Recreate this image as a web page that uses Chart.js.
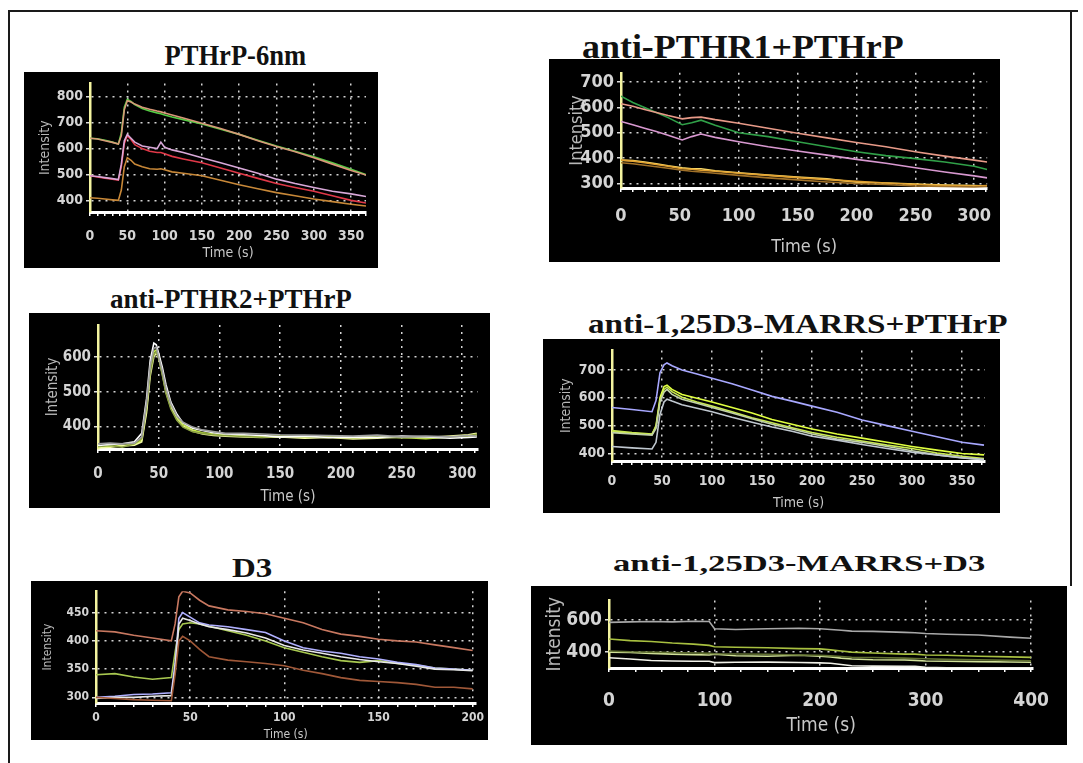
<!DOCTYPE html>
<html lang="en">
<head>
<meta charset="UTF-8">
<title>Calcium response panels</title>
<script src="https://cdn.jsdelivr.net/npm/chart.js@4.4.0/dist/chart.umd.min.js"></script>
<style>
  * { box-sizing: border-box; margin: 0; padding: 0; }
  body { width: 1083px; height: 763px; background: #fff; position: relative; overflow: hidden; font-family: 'Liberation Serif', 'Times New Roman', serif; }
  .frame { position: absolute; left: 8px; top: 10px; width: 1070px; height: 760px; border-left: 2px solid #1a1a1a; border-top: 2px solid #1a1a1a; }
  .frame-r { position: absolute; left: 1070px; top: 10px; width: 2px; height: 576px; background: #1a1a1a; }
  .panel { position: absolute; background: #000; z-index: 2; }
  .panel canvas { display: block; }
  .title { position: absolute; font-weight: bold; white-space: nowrap; color: #111; line-height: 1; z-index: 1; }
</style>
</head>
<body>
<div class="frame"></div>
<div class="frame-r"></div>
<script>
// ---- PTHrP-6nm ----
const p1Times = [0, 10, 20, 30, 38, 42, 46, 50, 55, 60, 70, 80, 90, 95, 100, 110, 125, 150, 175, 200, 225, 250, 275, 300, 325, 350, 370];
const p1Green = [640, 638, 632, 625, 618, 660, 760, 790, 782, 770, 755, 745, 738, 735, 730, 722, 712, 695, 675, 655, 632, 610, 590, 568, 545, 520, 500];
const p1Tan = [640, 637, 630, 624, 618, 650, 750, 785, 780, 772, 760, 752, 745, 742, 738, 730, 718, 698, 678, 655, 630, 608, 588, 565, 540, 515, 498];
const p1Lavender = [495, 492, 488, 484, 480, 540, 630, 655, 640, 625, 610, 605, 600, 625, 605, 595, 585, 565, 545, 525, 505, 482, 465, 450, 435, 425, 415];
const p1Red = [495, 490, 486, 482, 478, 530, 620, 650, 635, 615, 600, 590, 585, 585, 580, 570, 560, 545, 525, 505, 485, 465, 450, 435, 418, 400, 390];
const p1Orange = [410, 408, 405, 402, 400, 440, 530, 565, 555, 540, 530, 522, 520, 522, 518, 510, 505, 495, 478, 460, 445, 430, 418, 405, 395, 385, 378];
const p1XTicks = [0, 50, 100, 150, 200, 250, 300, 350];
const p1YTicks = [400, 500, 600, 700, 800];

// ---- anti-PTHR1+PTHrP ----
const p2Times = [0, 10, 20, 30, 40, 52, 60, 68, 80, 100, 125, 150, 175, 200, 225, 250, 275, 300, 311];
const p2Green = [645, 620, 600, 580, 560, 532, 540, 550, 530, 500, 485, 465, 445, 425, 410, 398, 385, 368, 355];
const p2Salmon = [615, 605, 592, 580, 568, 555, 560, 562, 552, 538, 518, 498, 480, 462, 445, 425, 408, 392, 385];
const p2Pink = [545, 532, 518, 505, 490, 472, 485, 495, 482, 465, 445, 428, 412, 395, 380, 362, 345, 330, 322];
const p2Orange = [392, 388, 382, 375, 368, 358, 356, 352, 348, 340, 332, 323, 315, 308, 302, 296, 292, 290, 292];
const p2Brown = [382, 378, 372, 366, 360, 352, 348, 345, 340, 332, 322, 314, 306, 300, 296, 290, 288, 286, 288];
const p2Yellow = [392, 390, 385, 378, 370, 362, 358, 358, 350, 342, 333, 325, 318, 305, 302, 298, 294, 292, 290];
const p2XTicks = [0, 50, 100, 150, 200, 250, 300];
const p2YTicks = [300, 400, 500, 600, 700];

// ---- anti-PTHR2+PTHrP ----
const p3Times = [0, 10, 20, 30, 36, 40, 43, 46, 48, 50, 53, 56, 60, 65, 70, 78, 86, 95, 105, 120, 135, 150, 170, 190, 210, 230, 250, 270, 290, 305, 312];
const p3Lime = [340, 342, 345, 348, 360, 450, 560, 615, 620, 605, 560, 505, 460, 425, 405, 390, 382, 378, 375, 372, 370, 372, 368, 370, 366, 372, 368, 365, 370, 372, 375];
const p3White = [345, 348, 350, 356, 380, 480, 590, 640, 635, 610, 570, 520, 470, 435, 410, 395, 388, 382, 378, 376, 374, 370, 372, 368, 370, 368, 372, 370, 366, 368, 370];
const p3Gray = [350, 352, 350, 352, 370, 470, 575, 625, 628, 600, 560, 510, 465, 430, 412, 398, 390, 385, 380, 380, 378, 376, 375, 374, 372, 375, 370, 372, 370, 374, 372];
const p3Pale = [338, 340, 344, 346, 355, 440, 545, 600, 612, 598, 552, 498, 455, 420, 400, 386, 378, 374, 372, 370, 368, 370, 366, 368, 364, 366, 370, 368, 372, 376, 380];
const p3Olive = [342, 345, 340, 350, 365, 460, 555, 608, 615, 595, 548, 495, 450, 418, 398, 385, 380, 376, 374, 371, 369, 372, 371, 369, 368, 370, 367, 369, 368, 373, 377];
const p3XTicks = [0, 50, 100, 150, 200, 250, 300];
const p3YTicks = [400, 500, 600];

// ---- anti-1,25D3-MARRS+PTHrP ----
const p4Times = [0, 20, 40, 44, 48, 52, 55, 60, 70, 85, 100, 120, 140, 160, 180, 200, 225, 250, 275, 300, 325, 350, 372];
const p4Lavender = [565, 558, 550, 590, 690, 718, 725, 715, 700, 685, 670, 650, 628, 605, 588, 570, 548, 520, 500, 480, 460, 440, 430];
const p4Yellow1 = [478, 472, 468, 500, 600, 640, 645, 630, 612, 598, 585, 565, 545, 522, 505, 488, 470, 455, 440, 425, 412, 400, 395];
const p4Yellow2 = [482, 475, 470, 495, 590, 630, 638, 622, 602, 585, 570, 550, 528, 510, 492, 475, 458, 445, 430, 418, 402, 390, 382];
const p4Sage = [475, 470, 466, 490, 585, 620, 630, 612, 595, 580, 565, 545, 525, 505, 488, 470, 452, 440, 425, 410, 395, 385, 378];
const p4Gray = [425, 420, 416, 440, 540, 585, 595, 588, 575, 562, 550, 530, 512, 495, 480, 462, 448, 432, 418, 405, 395, 384, 378];
const p4XTicks = [0, 50, 100, 150, 200, 250, 300, 350];
const p4YTicks = [400, 500, 600, 700];

// ---- D3 ----
const p5Times = [0, 10, 20, 30, 40, 42, 44, 46, 50, 55, 60, 70, 80, 90, 100, 110, 120, 130, 140, 150, 160, 170, 180, 190, 200];
const p5Brown = [418, 416, 410, 405, 400, 430, 478, 488, 485, 472, 462, 455, 452, 448, 440, 432, 420, 412, 408, 403, 400, 398, 393, 388, 383];
const p5Lavender = [300, 302, 305, 306, 308, 360, 440, 450, 442, 432, 428, 425, 420, 415, 400, 388, 382, 378, 372, 368, 362, 358, 352, 350, 348];
const p5Green = [340, 342, 336, 332, 335, 380, 420, 430, 432, 430, 426, 418, 410, 400, 388, 380, 372, 365, 362, 365, 360, 357, 352, 350, 348];
const p5Rust = [300, 298, 296, 295, 294, 340, 400, 408, 400, 385, 372, 366, 363, 360, 356, 348, 342, 335, 330, 328, 326, 323, 318, 318, 315];
const p5White = [298, 300, 300, 302, 303, 350, 430, 440, 436, 430, 425, 420, 414, 405, 392, 384, 378, 372, 367, 363, 360, 355, 350, 349, 347];
const p5XTicks = [0, 50, 100, 150, 200];
const p5YTicks = [300, 350, 400, 450];

// ---- anti-1,25D3-MARRS+D3 ----
const p6Times = [0, 20, 40, 60, 80, 95, 100, 120, 150, 180, 200, 210, 220, 230, 250, 280, 290, 300, 320, 350, 380, 400];
const p6Gray = [585, 588, 590, 588, 592, 590, 545, 540, 545, 548, 545, 540, 535, 530, 528, 522, 520, 515, 510, 505, 492, 485];
const p6Lime = [480, 470, 465, 455, 448, 440, 432, 428, 425, 420, 418, 412, 405, 398, 392, 385, 385, 380, 378, 372, 368, 365];
const p6Olive = [405, 400, 398, 395, 392, 390, 388, 386, 384, 380, 378, 374, 370, 366, 364, 360, 358, 356, 352, 350, 346, 344];
const p6Pale = [398, 395, 390, 385, 382, 380, 385, 375, 372, 378, 372, 368, 360, 355, 350, 348, 346, 342, 340, 338, 336, 334];
const p6White = [362, 355, 345, 342, 340, 340, 332, 334, 335, 333, 330, 328, 320, 312, 310, 308, 308, 302, 300, 300, 300, 300];
const p6XTicks = [0, 100, 200, 300, 400];
const p6YTicks = [400, 600];

const TICK_FONT = "'Liberation Sans Narrow', 'DejaVu Sans Condensed', 'Liberation Sans', sans-serif";
const GRID = 'rgba(235,235,235,0.9)';

// box = black panel, plot = axis corner positions (page px)
const panels = [
  {
    title: 'PTHrP-6nm', tcx: 235, tcy: 55, tsize: 29, twidth: 142,
    box: [24, 72, 378, 268], plot: [90, 80, 372, 212],
    xMin: 0, xMax: 370, yMin: 355, yMax: 852, xTicks: p1XTicks, yTicks: p1YTicks, minor: 10,
    font: 14, xPad: 12, xTitlePad: 6, yTitlePad: 13,
    times: p1Times,
    series: [[p1Tan, '#d89878'], [p1Green, '#55cc44'], [p1Orange, '#c88838'], [p1Lavender, '#d8a8d8'], [p1Red, '#e03848']],
  },
  {
    title: 'anti-PTHR1+PTHrP', tcx: 743, tcy: 47, tsize: 33, twidth: 322,
    box: [549, 59, 1000, 262], plot: [621, 61, 997, 188],
    xMin: 0, xMax: 311, yMin: 282, yMax: 737, xTicks: p2XTicks, yTicks: p2YTicks, minor: 10,
    font: 18, xPad: 14, xTitlePad: 4, yTitlePad: 18,
    times: p2Times,
    series: [[p2Brown, '#a07028'], [p2Orange, '#e0a030'], [p2Yellow, '#f8d868'], [p2Salmon, '#e89a88'], [p2Pink, '#d898d0'], [p2Green, '#30a048']],
  },
  {
    title: 'anti-PTHR2+PTHrP', tcx: 231, tcy: 299, tsize: 27, twidth: 242,
    box: [29, 313, 490, 508], plot: [98, 318, 478, 449],
    xMin: 0, xMax: 313, yMin: 335, yMax: 692, xTicks: p3XTicks, yTicks: p3YTicks, minor: 10,
    font: 15, xPad: 12, xTitlePad: 2, yTitlePad: 15,
    times: p3Times,
    series: [[p3Gray, '#a0a0a0'], [p3White, '#ffffff'], [p3Olive, '#8aa040'], [p3Pale, '#f0f8a0'], [p3Lime, '#c8f040']],
  },
  {
    title: 'anti-1,25D3-MARRS+PTHrP', tcx: 798, tcy: 324, tsize: 27, twidth: 420,
    box: [543, 339, 1000, 513], plot: [612, 342, 985, 461],
    xMin: 0, xMax: 373, yMin: 373, yMax: 770, xTicks: p4XTicks, yTicks: p4YTicks, minor: 10,
    font: 14, xPad: 8, xTitlePad: 1, yTitlePad: 15,
    times: p4Times,
    series: [[p4Lavender, '#a8a8ff'], [p4Gray, '#c0c8d0'], [p4Sage, '#c0d0a8'], [p4Yellow2, '#c8e850'], [p4Yellow1, '#e0ff40']],
  },
  {
    title: 'D3', tcx: 252, tcy: 568, tsize: 28, twidth: 40,
    box: [31, 581, 488, 740], plot: [96, 583, 478, 703],
    xMin: 0, xMax: 201.5, yMin: 290, yMax: 488, xTicks: p5XTicks, yTicks: p5YTicks, minor: 10,
    font: 12, xPad: 4, xTitlePad: -2, yTitlePad: 10,
    times: p5Times,
    series: [[p5Rust, '#a05838'], [p5Brown, '#c87860'], [p5White, '#e8e8e8'], [p5Lavender, '#b0b0ff'], [p5Green, '#a8c850']],
  },
  {
    title: 'anti-1,25D3-MARRS+D3', tcx: 799, tcy: 563, tsize: 24, twidth: 372,
    box: [531, 586, 1067, 745], plot: [609, 589, 1054, 668],
    xMin: 0, xMax: 402, yMin: 298, yMax: 723, xTicks: p6XTicks, yTicks: p6YTicks, minor: 25,
    font: 19, xPad: 18, xTitlePad: 8, yTitlePad: 13,
    times: p6Times,
    series: [[p6Gray, '#a8a8a8'], [p6Olive, '#607030'], [p6Pale, '#d0e098'], [p6Lime, '#a8c040'], [p6White, '#f0f0e8']],
  },
];

function addTitle(p) {
  const el = document.createElement('div');
  el.className = 'title';
  el.textContent = p.title;
  el.style.fontSize = p.tsize + 'px';
  document.body.appendChild(el);
  const w = el.offsetWidth, h = el.offsetHeight;
  el.style.left = (p.tcx - w / 2) + 'px';
  el.style.top = (p.tcy - h / 2) + 'px';
  el.style.transform = `scaleX(${p.twidth / w})`;
}

function addPanel(p) {
  const [bl, bt, br, bb] = p.box;
  const [pl, pt, pr, pb] = p.plot;
  const w = br - bl, h = bb - bt;
  const div = document.createElement('div');
  div.className = 'panel';
  Object.assign(div.style, { left: bl + 'px', top: bt + 'px', width: w + 'px', height: h + 'px' });
  const canvas = document.createElement('canvas');
  canvas.width = w; canvas.height = h;
  canvas.style.width = w + 'px'; canvas.style.height = h + 'px';
  div.appendChild(canvas);
  document.body.appendChild(div);

  const tickFont = { family: TICK_FONT, size: p.font, weight: 'bold' };
  const titleFont = { family: TICK_FONT, size: p.font };

  // x ticks: labelled majors plus small unlabelled marks between them
  const xAll = [];
  for (let v = p.xMin; v <= p.xMax; v += p.minor) xAll.push(v);
  const isMajor = v => p.xTicks.includes(v);

  new Chart(canvas, {
    type: 'line',
    data: {
      datasets: p.series.map(([vals, color]) => ({
        data: p.times.map((t, i) => ({ x: t, y: vals[i] })),
        borderColor: color,
        borderWidth: 1.6,
        pointRadius: 0,
        tension: 0,
        fill: false,
      })),
    },
    options: {
      responsive: false,
      animation: false,
      events: [],
      layout: { padding: { top: pt - bt, right: br - pr, left: 0, bottom: 0 } },
      plugins: { legend: { display: false }, tooltip: { enabled: false } },
      scales: {
        x: {
          type: 'linear', min: p.xMin, max: p.xMax,
          afterBuildTicks: s => { s.ticks = xAll.map(v => ({ value: v })); },
          afterFit: s => { s.height = bb - pb; },
          grid: {
            color: c => (c.tick && isMajor(c.tick.value) && c.tick.value !== 0 ? GRID : 'rgba(0,0,0,0)'),
            lineWidth: 1.5,
            tickLength: 4,
            tickColor: '#ffffff',
          },
          border: { display: true, color: '#ffffff', width: 3, dash: [2, 5] },
          ticks: {
            color: '#d4d4d4', font: tickFont, padding: p.xPad, maxRotation: 0, autoSkip: false,
            callback: v => (isMajor(v) ? String(v) : ''),
          },
          title: { display: true, text: 'Time (s)', color: '#c8c8c8', font: titleFont, padding: p.xTitlePad },
        },
        y: {
          type: 'linear', min: p.yMin, max: p.yMax,
          afterBuildTicks: s => { s.ticks = p.yTicks.map(v => ({ value: v })); },
          afterFit: s => { s.width = pl - bl; },
          grid: { color: GRID, lineWidth: 1.5, tickLength: 4, tickColor: '#dddddd' },
          border: { display: true, color: '#f4f4a0', width: 2.5, dash: [2, 5] },
          ticks: { color: '#d4d4d4', font: tickFont, padding: 3, autoSkip: false },
          title: { display: true, text: 'Intensity', color: '#b8b8b8', font: titleFont, padding: p.yTitlePad },
        },
      },
    },
  });
}

panels.forEach(p => { addTitle(p); addPanel(p); });
</script>
</body>
</html>
